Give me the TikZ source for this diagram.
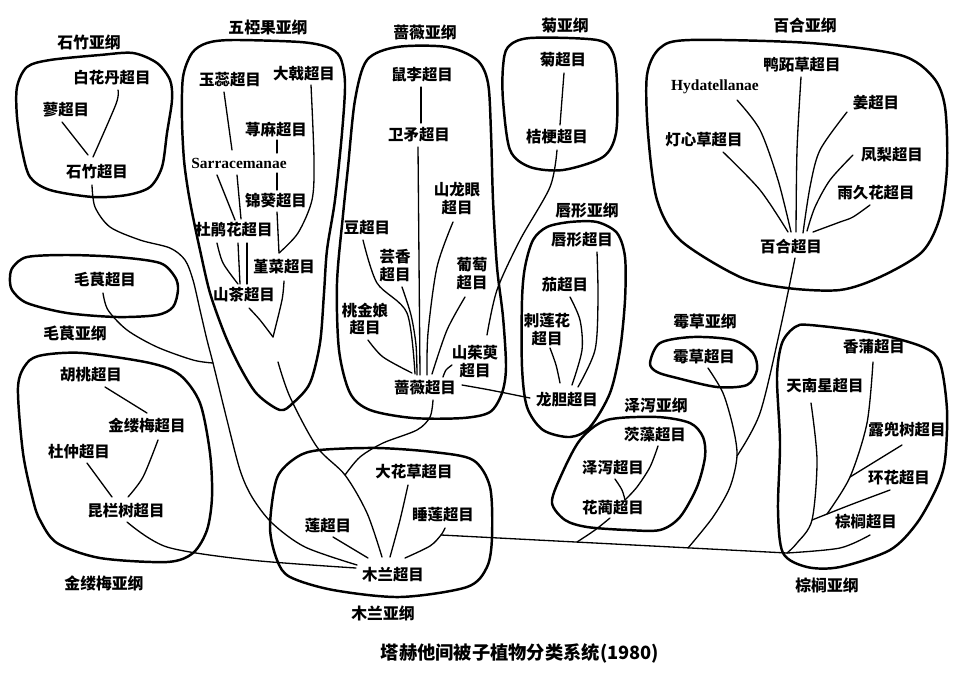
\documentclass[tikz,border=0pt]{standalone}
\usepackage{fontspec}
\setmainfont{Liberation Serif}
\newfontfamily\cjk{Noto Sans CJK SC}
\newfontfamily\latb{Liberation Serif Bold}
\usetikzlibrary{calc}
\begin{document}
\begin{tikzpicture}[x=0.02cm,y=-0.02cm,
  box/.style={line width=1.4pt, line join=round},
  link/.style={line width=0.75pt, line cap=round},
  lab/.style={font={\cjk\bfseries\fontsize{8.8pt}{10.2pt}\selectfont}, inner sep=1pt, align=center},
  ttl/.style={font={\cjk\bfseries\fontsize{9pt}{10pt}\selectfont}, inner sep=1pt},
  latl/.style={font={\latb\fontsize{8.8pt}{10pt}\selectfont}, inner sep=1pt},
  captxt/.style={font={\cjk\bfseries\fontsize{10.4pt}{12pt}\selectfont}, inner sep=1pt}]
\fill[white] (0,0) rectangle (979,690);
\useasboundingbox (0,0) rectangle (979,690);

% ---------- boxes ----------
\draw[box] plot[smooth cycle] coordinates {(17,87) (27,67) (50,60) (100,55) (133,53) (157,63) (170,80) (172,100) (167,133) (162,167) (150,187) (127,195) (93,197) (50,190) (30,177) (22,150) (17,117)};
\draw[box] plot[smooth cycle] coordinates {(183,77) (192,53) (207,43) (233,40) (300,42) (327,47) (340,57) (345,83) (342,133) (335,200) (327,250) (324,293) (320,343) (310,383) (293,403) (280,410) (257,394) (240,367) (225,335) (210,293) (200,250) (193,217) (188,190) (184,160) (182,120)};
\draw[box] plot[smooth cycle] coordinates {(355,100) (367,60) (397,47) (447,47) (477,60) (488,83) (491,133) (493,200) (497,267) (503,317) (506,367) (502,393) (490,412) (463,418) (413,418) (370,410) (350,393) (339,350) (337,283) (343,215) (348,167)};
\draw[box] plot[smooth cycle] coordinates {(503,67) (508,47) (530,38) (597,40) (613,53) (617,83) (616,133) (603,157) (563,170) (530,167) (510,150) (503,100)};
\draw[box] plot[smooth cycle] coordinates {(525,267) (533,240) (547,227) (570,222) (597,222) (617,233) (625,257) (625,300) (620,350) (610,393) (590,427) (570,437) (543,430) (527,407) (522,367) (522,300)};
\draw[box] plot[smooth cycle] coordinates {(647,75) (660,48) (690,40) (810,43) (900,55) (933,77) (945,107) (947,167) (940,217) (922,252) (880,277) (840,290) (787,288) (740,277) (680,240) (657,200) (648,133)};
\draw[box] plot[smooth cycle] coordinates {(650,363) (660,343) (693,337) (733,340) (753,353) (757,370) (747,385) (717,387) (677,378) (657,372)};
\draw[box] plot[smooth cycle] coordinates {(552,503) (560,478) (580,440) (607,420) (657,417) (690,423) (703,437) (705,457) (697,487) (680,517) (660,530) (627,530) (587,527) (565,520)};
\draw[box] plot[smooth cycle] coordinates {(782,343) (795,327) (810,325) (873,333) (923,347) (940,363) (947,410) (945,460) (937,487) (917,523) (890,550) (840,567) (807,567) (783,553) (778,510) (780,443) (777,377)};
\draw[box] plot[smooth cycle] coordinates {(270,527) (277,478) (297,457) (320,450) (377,448) (433,452) (473,460) (490,487) (492,537) (487,567) (467,587) (400,597) (333,590) (290,577) (277,560)};
\draw[box] plot[smooth cycle] coordinates {(18,387) (27,363) (43,355) (83,353) (150,363) (180,375) (200,403) (210,453) (212,497) (207,530) (193,553) (167,562) (100,558) (57,543) (40,520) (33,500) (23,453)};
\draw[box] plot[smooth cycle] coordinates {(10,277) (13,267) (27,257) (67,255) (117,257) (160,263) (175,277) (178,290) (173,307) (157,315) (117,317) (67,313) (27,303) (12,290)};

% ---------- subclass titles ----------
\node[ttl] (tsz) at (89,42) {石竹亚纲};
\node[ttl] (twyg) at (268,27) {五椏果亚纲};
\node[ttl] (tqw) at (425,32) {蔷薇亚纲};
\node[ttl] (tju) at (565,25) {菊亚纲};
\node[ttl] (tbh) at (805,25) {百合亚纲};
\node[ttl] (tcx) at (587,210) {唇形亚纲};
\node[ttl] (tmg) at (75,333) {毛茛亚纲};
\node[ttl] (tmc) at (705,321) {霉草亚纲};
\node[ttl] (tzx) at (656,405) {泽泻亚纲};
\node[ttl] (tzl) at (827,585) {棕榈亚纲};
\node[ttl] (tjlm) at (104,583) {金缕梅亚纲};
\node[ttl] (tml) at (383,613) {木兰亚纲};
\node[captxt] (capn) at (520,653) {塔赫他间被子植物分类系统(1980)};

% ---------- superorders ----------
\node[lab] (bhd) at (112,78) {白花丹超目};
\node[lab] (liao) at (66,110) {蓼超目};
\node[lab] (sz) at (97,172) {石竹超目};
\node[lab] (mg) at (105,280) {毛茛超目};
\node[lab] (yr) at (230,80) {玉蕊超目};
\node[lab] (dj) at (304,74) {大戟超目};
\node[lab] (qm) at (276,130) {荨麻超目};
\node[latl] (sar) at (239,163) {Sarracemanae};
\node[lab] (jk) at (276,201) {锦葵超目};
\node[lab] (djh) at (234,230) {杜鹃花超目};
\node[lab] (jc) at (284,267) {堇菜超目};
\node[lab] (sc) at (244,295) {山茶超目};
\node[lab] (sl) at (422,75) {鼠李超目};
\node[lab] (wm) at (419,135) {卫矛超目};
\node[lab] (sly) at (457,199) {山龙眼\\超目};
\node[lab] (dou) at (367,228) {豆超目};
\node[lab] (yx) at (395,266) {芸香\\超目};
\node[lab] (pt) at (472,274) {葡萄\\超目};
\node[lab] (tjn) at (365,319) {桃金娘\\超目};
\node[lab] (szy) at (475,362) {山茱萸\\超目};
\node[lab] (qw) at (425,388) {蔷薇超目};
\node[lab] (ju) at (563,60) {菊超目};
\node[lab] (jg) at (557,137) {桔梗超目};
\node[lab] (cx) at (582,240) {唇形超目};
\node[lab] (qie) at (565,285) {茄超目};
\node[lab] (clh) at (547,330) {刺莲花\\超目};
\node[lab] (ld) at (567,400) {龙胆超目};
\node[lab] (yzc) at (802,65) {鸭跖草超目};
\node[latl] (hyd) at (715,87) {Hydatellanae};
\node[lab] (jiang) at (876,103) {姜超目};
\node[lab] (dxc) at (704,140) {灯心草超目};
\node[lab] (fl) at (892,155) {凤梨超目};
\node[lab] (yjh) at (876,193) {雨久花超目};
\node[lab] (bh) at (791,247) {百合超目};
\node[lab] (mc) at (704,357) {霉草超目};
\node[lab] (cz) at (655,435) {茨藻超目};
\node[lab] (zx) at (613,468) {泽泻超目};
\node[lab] (hl) at (613,508) {花蔺超目};
\node[lab] (xp) at (874,347) {香蒲超目};
\node[lab] (tnx) at (825,386) {天南星超目};
\node[lab] (ldsh) at (907,430) {露兜树超目};
\node[lab] (hh) at (899,478) {环花超目};
\node[lab] (zl) at (866,522) {棕榈超目};
\node[lab] (ht) at (91,375) {胡桃超目};
\node[lab] (jlm) at (147,426) {金缕梅超目};
\node[lab] (dz) at (79,452) {杜仲超目};
\node[lab] (klsh) at (126,511) {昆栏树超目};
\node[lab] (dhc) at (414,472) {大花草超目};
\node[lab] (sl2) at (443,515) {睡莲超目};
\node[lab] (lian) at (328,526) {莲超目};
\node[lab] (ml) at (393,575) {木兰超目};

% ---------- junctions ----------
\coordinate (jmg) at (213,363);
\coordinate (jjc) at (279,253);
\coordinate (jwj) at (273,337);
\coordinate (jwj3) at (278,362);
\coordinate (jqw) at (345,475);
\coordinate (jbh) at (737,456);
\coordinate (jsl) at (441,535);
\coordinate (jzl) at (787,553);
\coordinate (jhl) at (577,542);
\coordinate (jmc) at (688,548);
\coordinate (jtnx) at (812,520);
\coordinate (jldsh) at (850,477);
\coordinate (jhh) at (827,514);

% ---------- links: 石竹 / 毛茛 ----------
\draw[link] plot[smooth] coordinates {($(bhd)+(6,12)$) (116,104) ($(sz)+(-4,-15)$)};
\draw[link] ($(liao)+(-4,12)$) -- ($(sz)+(-9,-17)$);
\draw[link] plot[smooth] coordinates {($(sz)+(-5,13)$) (95,207) (110,227) (140,240) (170,248) (185,260) (193,280) (200,310) (207,340) (jmg) (227,420) (240,470) (252,497) (272,523) (305,547) ($(ml)+(-36,-10)$)};
\draw[link] plot[smooth] coordinates {($(mg)+(-2,13)$) (108,310) (127,330) (157,347) (193,360) (jmg)};

% ---------- links: 五椏果 ----------
\draw[link] ($(yr)+(-6,12)$) -- ($(sar)+(-7,-13)$);
\draw[link] plot[smooth] coordinates {($(dj)+(7,11)$) (314,160) (312,200) (298,233) (jjc)};
\draw[link] ($(qm)+(1,10)$) -- ($(qm)+(1,23)$);
\draw[link] ($(jk)+(1,-28)$) -- ($(jk)+(1,-11)$);
\draw[link] ($(jk)+(1,11)$) -- (jjc);
\draw[link] ($(sar)+(-22,12)$) -- ($(djh)+(1,-10)$);
\draw[link] ($(sar)+(-2,12)$) -- ($(djh)+(7,-11)$);
\draw[link] plot[smooth] coordinates {($(djh)+(-17,13)$) (223,263) ($(sc)+(-6,-11)$)};
\draw[link] ($(djh)+(4,13)$) -- ($(sc)+(-4,-11)$);
\draw[link] ($(djh)+(13,13)$) -- ($(sc)+(3,-11)$);
\draw[link] plot[smooth] coordinates {($(jc)+(0,14)$) (282,300) (jwj)};
\draw[link] plot[smooth] coordinates {($(sc)+(5,13)$) (260,320) (jwj)};
\draw[link] plot[smooth] coordinates {(jwj3) (290,397) (317,447) (jqw) (367,513) ($(ml)+(-11,-18)$)};

% ---------- links: 蔷薇 ----------
\draw[link] plot[smooth] coordinates {($(qw)+(8,12)$) (430,417) (417,430) (383,443) (360,457) (jqw)};
\draw[link] ($(sl)+(-1,12)$) -- ($(wm)+(2,-12)$);
\draw[link] ($(wm)+(-1,12)$) -- ($(qw)+(-5,-13)$);
\draw[link] plot[smooth] coordinates {($(sly)+(-4,23)$) (437,267) (428,333) ($(qw)+(2,-13)$)};
\draw[link] plot[smooth] coordinates {($(dou)+(-4,12)$) (377,283) (407,313) ($(qw)+(-10,-14)$)};
\draw[link] plot[smooth] coordinates {($(yx)+(7,21)$) (411,315) (416,345) ($(qw)+(-8,-13)$)};
\draw[link] plot[smooth] coordinates {($(tjn)+(3,21)$) (383,357) ($(qw)+(-13,-15)$)};
\draw[link] plot[smooth] coordinates {($(pt)+(-7,23)$) (447,330) ($(qw)+(7,-14)$)};
\draw[link] plot[smooth] coordinates {($(szy)+(-23,3)$) (446,370) ($(qw)+(18,-11)$)};
\draw[link] plot[smooth] coordinates {($(qw)+(37,-3)$) (490,390) ($(ld)+(-37,-2)$)};
\draw[link] plot[smooth] coordinates {($(jg)+(0,13)$) (550,187) (520,240) (497,290) ($(szy)+(12,-27)$)};

% ---------- links: 菊 / 唇形 ----------
\draw[link] ($(ju)+(1,13)$) -- ($(jg)+(3,-12)$);
\draw[link] plot[smooth] coordinates {($(cx)+(15,12)$) (598,300) (595,350) ($(ld)+(11,-13)$)};
\draw[link] plot[smooth] coordinates {($(qie)+(5,12)$) (580,320) (582,350) ($(ld)+(5,-15)$)};
\draw[link] plot[smooth] coordinates {($(clh)+(3,18)$) (556,365) ($(ld)+(-7,-17)$)};

% ---------- links: 百合 ----------
\draw[link] plot[smooth] coordinates {($(yzc)+(-1,12)$) (797,150) ($(bh)+(5,-15)$)};
\draw[link] plot[smooth] coordinates {($(hyd)+(22,13)$) (760,130) (778,180) ($(bh)+(0,-15)$)};
\draw[link] plot[smooth] coordinates {($(dxc)+(19,12)$) (760,190) ($(bh)+(-3,-15)$)};
\draw[link] plot[smooth] coordinates {($(jiang)+(-29,9)$) (820,150) (810,187) ($(bh)+(12,-14)$)};
\draw[link] plot[smooth] coordinates {($(fl)+(-39,0)$) (830,180) (815,207) ($(bh)+(16,-16)$)};
\draw[link] plot[smooth] coordinates {($(yjh)+(-6,12)$) (853,217) (840,222) ($(bh)+(22,-15)$)};
\draw[link] plot[smooth] coordinates {($(bh)+(4,11)$) (780,330) (760,413) (jbh)};

% ---------- links: 霉草 / 泽泻 ----------
\draw[link] plot[smooth] coordinates {($(mc)+(4,11)$) (723,393) (733,427) (jbh) (730,487) (713,517) (jmc)};
\draw[link] plot[smooth] coordinates {($(cz)+(3,11)$) (650,467) (637,487) ($(hl)+(12,-8)$)};
\draw[link] plot[smooth] coordinates {($(zx)+(2,11)$) (622,490) ($(hl)+(12,-8)$)};
\draw[link] plot[smooth] coordinates {($(hl)+(-3,10)$) (595,530) (jhl)};

% ---------- links: 棕榈 ----------
\draw[link] (jsl) -- (jzl);
\draw[link] plot[smooth] coordinates {($(tnx)+(-14,17)$) (817,460) (jtnx) (797,543) (jzl)};
\draw[link] plot[smooth] coordinates {($(zl)+(4,13)$) (840,548) (jzl)};
\draw[link] plot[smooth] coordinates {($(xp)+(-1,15)$) (867,423) (jldsh) (jhh)};
\draw[link] ($(ldsh)+(-5,15)$) -- (jldsh);
\draw[link] plot[smooth] coordinates {($(hh)+(-9,12)$) (850,505) (jtnx)};

% ---------- links: 木兰 / 金缕梅 ----------
\draw[link] plot[smooth] coordinates {($(dhc)+(-6,13)$) (400,520) ($(ml)+(-3,-18)$)};
\draw[link] plot[smooth] coordinates {($(sl2)+(2,13)$) (jsl) (430,546) ($(ml)+(12,-17)$)};
\draw[link] ($(lian)+(5,11)$) -- ($(ml)+(-25,-17)$);
\draw[link] plot[smooth] coordinates {($(klsh)+(1,11)$) (167,547) (250,560) ($(ml)+(-37,-7)$)};
\draw[link] ($(ht)+(14,12)$) -- ($(jlm)+(0,-13)$);
\draw[link] plot[smooth] coordinates {($(jlm)+(11,14)$) (143,477) ($(klsh)+(2,-14)$)};
\draw[link] ($(dz)+(8,11)$) -- ($(klsh)+(-14,-14)$);
\end{tikzpicture}
\end{document}
